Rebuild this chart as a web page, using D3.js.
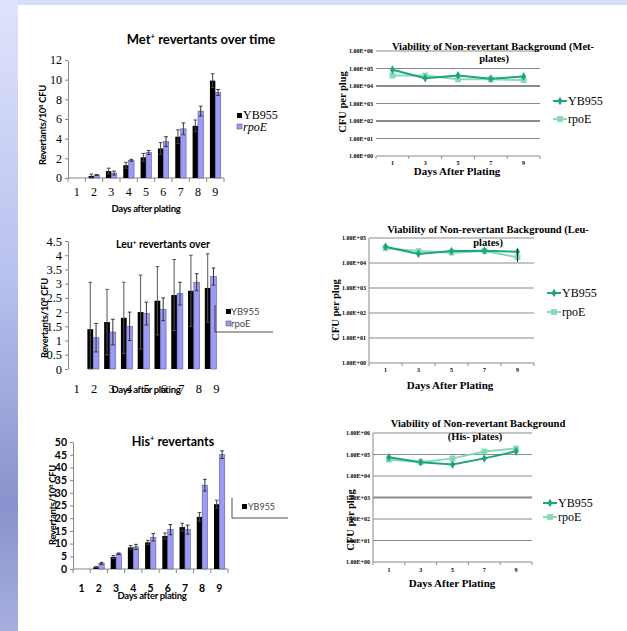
<!DOCTYPE html>
<html>
<head>
<meta charset="utf-8">
<script src="https://cdn.jsdelivr.net/npm/d3@7"></script>
<style>
  body { margin: 0; background: #fff; }
  svg { display: block; }
</style>
</head>
<body>
<div id="wrapper"></div>
<script>

// 1. Data

const days = ["1", "2", "3", "4", "5", "6", "7", "8", "9"]
const strains = ["YB955", "rpoE"]

const metYB955 = [0, 0.2, 0.7, 1.3, 2.1, 3.0, 4.2, 5.3, 9.9]
const metYB955Err = [0, 0.2, 0.3, 0.3, 0.4, 0.6, 0.7, 0.6, 0.7]
const metRpoE = [0, 0.3, 0.5, 1.8, 2.6, 3.7, 5.0, 6.8, 8.7]
const metRpoEErr = [0, 0.05, 0.2, 0.1, 0.2, 0.5, 0.6, 0.5, 0.3]
const metTicks = [0, 2, 4, 6, 8, 10, 12]

const leuYB955 = [0, 1.4, 1.65, 1.8, 2.0, 2.4, 2.6, 2.75, 2.85]
const leuYB955Err = [0, 1.65, 1.15, 1.25, 1.3, 1.2, 1.25, 1.25, 1.2]
const leuRpoE = [0, 1.1, 1.3, 1.5, 1.95, 2.1, 2.65, 3.05, 3.25]
const leuRpoEErr = [0, 0.5, 0.45, 0.5, 0.4, 0.4, 0.4, 0.3, 0.3]
const leuTicks = [0, 0.5, 1, 1.5, 2, 2.5, 3, 3.5, 4, 4.5]

const hisYB955 = [0, 0.8, 4.7, 8.5, 10.5, 13, 16.5, 20.5, 25.5]
const hisYB955Err = [0, 0.2, 0.6, 0.7, 0.8, 1.2, 1.5, 1.7, 1.6]
const hisRpoE = [0, 2.2, 6, 8.7, 12.5, 15.5, 15.5, 33, 45]
const hisRpoEErr = [0, 0.4, 0.3, 1.0, 1.5, 2.0, 1.8, 2.3, 1.5]
const hisTicks = [0, 5, 10, 15, 20, 25, 30, 35, 40, 45, 50]

const viabDays = ["1", "3", "5", "7", "9"]
const metViabYB955 = [85000, 28000, 40000, 26000, 35000]
const metViabRpoE = [40000, 40000, 24000, 24000, 22000]
const leuViabYB955 = [45000, 23000, 30000, 31000, 28000]
const leuViabRpoE = [39000, 30000, 26000, 30000, 17000]
const leuViabYB955Err = [0, 0, 0, 0, 9000]
const leuViabRpoEErr = [0, 0, 0, 0, 6000]
const hisViabYB955 = [74000, 44000, 34000, 66000, 141000]
const hisViabRpoE = [58000, 44000, 66000, 138000, 190000]
const logTicks6 = [1, 10, 100, 1e3, 1e4, 1e5, 1e6]
const logTicks5 = [1, 10, 100, 1e3, 1e4, 1e5]

// 2. Frame

const width = 627
const height = 631
const barColors = {YB955: "#000000", rpoE: "#9b9bf7"}
const lineColors = {YB955: "#1ea57e", rpoE: "#86dbb3"}
const serif = "'Liberation Serif', 'Times New Roman', serif"
const sans = "Lato, 'Open Sans', sans-serif"

const svg = d3.select("#wrapper")
    .append("svg")
    .attr("width", width)
    .attr("height", height)

const defs = svg.append("defs")
const grad = defs.append("linearGradient")
    .attr("id", "sideGrad")
    .attr("x1", 0).attr("y1", 0).attr("x2", 0).attr("y2", 1)
grad.append("stop").attr("offset", "0%").attr("stop-color", "#dfe4fb")
grad.append("stop").attr("offset", "45%").attr("stop-color", "#b7bfee")
grad.append("stop").attr("offset", "80%").attr("stop-color", "#8a92cd")
grad.append("stop").attr("offset", "100%").attr("stop-color", "#a7aede")

svg.append("rect")
    .attr("width", width).attr("height", 5)
    .attr("fill", "#d8defa")
svg.append("rect")
    .attr("width", 18).attr("height", height)
    .attr("fill", "url(#sideGrad)")

// 3. Bar chart panels (left column)

function drawBarPanel(cfg) {
    const g = svg.append("g")
    const x = d3.scaleBand()
        .domain(days)
        .range([cfg.x0, cfg.x1])
    // bars sit on a slightly different grid than the labels in the slide
    const xBars = d3.scaleBand()
        .domain(days)
        .range([cfg.x0, cfg.barsX1 || cfg.x1])
    const y = d3.scaleLinear()
        .domain([0, cfg.max])
        .range([cfg.yBot, cfg.yTop])
    const inner = d3.scaleBand()
        .domain(strains)
        .range([xBars.bandwidth() / 2 - cfg.barW, xBars.bandwidth() / 2 + cfg.barW])

    // y axis
    const yAxis = g.append("g")
        .attr("transform", `translate(${cfg.x0},0)`)
        .call(d3.axisLeft(y).tickValues(cfg.ticks).tickFormat(d => String(d))
            .tickSize(3).tickSizeOuter(0).tickPadding(3))
    yAxis.select(".domain").attr("stroke", "#888")
    yAxis.selectAll(".tick line").attr("stroke", "#888")
    yAxis.selectAll(".tick text")
        .style("font-family", cfg.tickFont)
        .style("font-weight", cfg.tickWeight)
        .style("font-size", cfg.tickSize + "px")
        .attr("fill", "#000")

    // x axis with Excel style ticks between categories
    if (cfg.xLine) {
        g.append("line")
            .attr("x1", cfg.x0).attr("x2", cfg.x1)
            .attr("y1", cfg.yBot).attr("y2", cfg.yBot)
            .attr("stroke", "#888")
        g.selectAll(".xtick")
            .data(days.concat(["end"]))
            .join("line")
            .attr("x1", d => d === "end" ? cfg.x1 : x(d))
            .attr("x2", d => d === "end" ? cfg.x1 : x(d))
            .attr("y1", cfg.yBot).attr("y2", cfg.yBot + 4)
            .attr("stroke", "#888")
    }
    g.selectAll(".xlab")
        .data(days)
        .join("text")
        .attr("x", d => x(d) + x.bandwidth() / 2)
        .attr("y", cfg.xLabelY)
        .attr("text-anchor", "middle")
        .style("font-family", cfg.tickFont)
        .style("font-weight", cfg.tickWeight)
        .style("font-size", cfg.tickSize + "px")
        .text(d => d)

    // bars
    const series = [
        {name: "YB955", values: cfg.values[0], errs: cfg.errs[0]},
        {name: "rpoE", values: cfg.values[1], errs: cfg.errs[1]},
    ]
    series.forEach(s => {
        const rows = days.map((d, i) => ({day: d, v: s.values[i], e: s.errs[i]}))
        g.append("g").selectAll("rect")
            .data(rows.filter(r => r.v > 0))
            .join("rect")
            .attr("x", r => xBars(r.day) + inner(s.name))
            .attr("y", r => y(r.v))
            .attr("width", inner.bandwidth())
            .attr("height", r => cfg.yBot - y(r.v))
            .attr("fill", barColors[s.name])
            .attr("stroke", s.name === "rpoE" ? "#5a5a9a" : "none")
            .attr("stroke-width", 0.6)

        const errs = g.append("g")
            .attr("stroke", s.name === "YB955" ? cfg.blackErr : "#333")
            .attr("stroke-width", 1)
        const cx = r => xBars(r.day) + inner(s.name) + inner.bandwidth() / 2
        const withErr = rows.filter(r => r.e > 0)
        errs.selectAll(".v")
            .data(withErr)
            .join("line")
            .attr("x1", cx).attr("x2", cx)
            .attr("y1", r => y(Math.max(0, r.v - r.e)))
            .attr("y2", r => y(r.v + r.e))
        errs.selectAll(".capTop")
            .data(withErr)
            .join("line")
            .attr("x1", r => cx(r) - 1.8).attr("x2", r => cx(r) + 1.8)
            .attr("y1", r => y(r.v + r.e)).attr("y2", r => y(r.v + r.e))
        errs.selectAll(".capBot")
            .data(withErr)
            .join("line")
            .attr("x1", r => cx(r) - 1.8).attr("x2", r => cx(r) + 1.8)
            .attr("y1", r => y(Math.max(0, r.v - r.e))).attr("y2", r => y(Math.max(0, r.v - r.e)))
    })

    // titles
    const title = g.append("text")
        .attr("x", cfg.titleX).attr("y", cfg.titleY)
        .attr("text-anchor", "middle")
        .attr("font-family", sans)
        .attr("font-weight", "bold")
        .attr("font-size", cfg.titleSize)
    title.append("tspan").text(cfg.title[0])
    title.append("tspan").attr("dy", -cfg.titleSize * 0.4).attr("font-size", cfg.titleSize * 0.6).text("+")
    title.append("tspan").attr("dy", cfg.titleSize * 0.4).text(cfg.title[1])

    g.append("text")
        .attr("x", cfg.xTitleX).attr("y", cfg.xTitleY)
        .attr("text-anchor", "middle")
        .attr("font-family", sans)
        .attr("font-weight", "bold")
        .attr("font-size", 9.5)
        .attr("letter-spacing", -0.3)
        .text("Days after plating")

    const yt = g.append("text")
        .attr("transform", `translate(${cfg.yTitleX},${cfg.yTitleY}) rotate(-90)`)
        .attr("text-anchor", "middle")
        .attr("font-family", sans)
        .attr("font-weight", "bold")
        .attr("font-size", 9.5)
        .attr("letter-spacing", -0.3)
    yt.append("tspan").text("Revertants/10")
    yt.append("tspan").attr("dy", -3).attr("font-size", 6).text("8")
    yt.append("tspan").attr("dy", 3).text(" CFU")

    return {g, x, y}
}

// Met+
const met = drawBarPanel({
    x0: 68, x1: 224, yTop: 60, yBot: 178, max: 12, ticks: metTicks,
    tickFont: serif, tickWeight: "normal", tickSize: 12, xLine: true, xLabelY: 196,
    values: [metYB955, metRpoE], errs: [metYB955Err, metRpoEErr], barW: 5.4, blackErr: "#444",
    title: ["Met", "  revertants over time"], titleX: 201, titleY: 44, titleSize: 13,
    xTitleX: 146, xTitleY: 212, yTitleX: 46, yTitleY: 125,
})
met.g.append("rect").attr("x", 237).attr("y", 113).attr("width", 5).attr("height", 5).attr("fill", barColors.YB955)
met.g.append("text").attr("x", 243).attr("y", 119).style("font-family", serif).attr("font-size", 12).text("YB955")
met.g.append("rect").attr("x", 237).attr("y", 124).attr("width", 5).attr("height", 5)
    .attr("fill", barColors.rpoE).attr("stroke", "#5a5a9a").attr("stroke-width", 0.6)
met.g.append("text").attr("x", 243).attr("y", 131).style("font-family", serif).attr("font-style", "italic")
    .attr("font-size", 12).text("rpoE")

// Leu+
const leu = drawBarPanel({
    x0: 68, x1: 225, barsX1: 219, yTop: 241, yBot: 369, max: 4.5, ticks: leuTicks,
    tickFont: serif, tickWeight: "normal", tickSize: 12.5, xLine: false, xLabelY: 393,
    values: [leuYB955, leuRpoE], errs: [leuYB955Err, leuRpoEErr], barW: 5.8, blackErr: "#555",
    title: ["Leu", "  revertants over"], titleX: 163, titleY: 248, titleSize: 10.5,
    xTitleX: 146, xTitleY: 393, yTitleX: 48, yTitleY: 318,
})
leu.g.append("path").attr("d", "M215,305V332H273").attr("fill", "none").attr("stroke", "#222").attr("stroke-width", 0.8)
leu.g.append("rect").attr("x", 226).attr("y", 309).attr("width", 5).attr("height", 5).attr("fill", barColors.YB955)
leu.g.append("text").attr("x", 231).attr("y", 315).attr("font-family", sans).attr("font-size", 9.5).attr("fill", "#444").text("YB955")
leu.g.append("rect").attr("x", 226).attr("y", 321).attr("width", 5).attr("height", 5)
    .attr("fill", barColors.rpoE).attr("stroke", "#5a5a9a").attr("stroke-width", 0.6)
leu.g.append("text").attr("x", 231).attr("y", 327).attr("font-family", sans).attr("font-size", 9.5).attr("fill", "#444").text("rpoE")

// His+
const his = drawBarPanel({
    x0: 73, x1: 228, yTop: 442, yBot: 569, max: 50, ticks: hisTicks,
    tickFont: sans, tickWeight: "bold", tickSize: 10.5, xLine: true, xLabelY: 592,
    values: [hisYB955, hisRpoE], errs: [hisYB955Err, hisRpoEErr], barW: 5.4, blackErr: "#444",
    title: ["His", "  revertants"], titleX: 173, titleY: 446, titleSize: 12.5,
    xTitleX: 152, xTitleY: 599, yTitleX: 56, yTitleY: 505,
})
his.g.append("path").attr("d", "M232,498V518H288").attr("fill", "none").attr("stroke", "#222").attr("stroke-width", 0.8)
his.g.append("rect").attr("x", 242).attr("y", 504).attr("width", 5).attr("height", 5).attr("fill", barColors.YB955)
his.g.append("text").attr("x", 248).attr("y", 510).attr("font-family", sans).attr("font-size", 9).attr("fill", "#444").text("YB955")

// 4. Viability line panels (right column)

function drawLinePanel(cfg) {
    const g = svg.append("g")
    const x = d3.scaleBand()
        .domain(viabDays)
        .range([cfg.x0, cfg.x1])
    const y = d3.scaleLog()
        .domain([1, cfg.top])
        .range([cfg.yBot, cfg.yTop])
    const fmt = d => "1.00E+" + String(Math.round(Math.log10(d))).padStart(2, "0")

    g.selectAll(".grid")
        .data(cfg.ticks)
        .join("line")
        .attr("x1", cfg.x0).attr("x2", cfg.x1)
        .attr("y1", d => y(d)).attr("y2", d => y(d))
        .attr("stroke", "#8a8a8a")
        .attr("stroke-width", d => cfg.thick.includes(d) ? 2 : 1.2)
    g.selectAll(".ylab")
        .data(cfg.ticks)
        .join("text")
        .attr("x", cfg.x0 - 3)
        .attr("y", d => y(d) + 2)
        .attr("text-anchor", "end")
        .style("font-family", serif)
        .attr("font-weight", "bold")
        .attr("font-size", 6)
        .text(fmt)
    if (cfg.yLine) {
        g.append("line")
            .attr("x1", cfg.x0).attr("x2", cfg.x0)
            .attr("y1", cfg.yTop).attr("y2", cfg.yBot)
            .attr("stroke", "#8a8a8a")
    }
    g.selectAll(".xtick")
        .data(viabDays.concat(["end"]))
        .join("line")
        .attr("x1", d => d === "end" ? cfg.x1 : x(d))
        .attr("x2", d => d === "end" ? cfg.x1 : x(d))
        .attr("y1", cfg.yBot).attr("y2", cfg.yBot + 3)
        .attr("stroke", "#8a8a8a")
    g.selectAll(".xlab")
        .data(viabDays)
        .join("text")
        .attr("x", d => x(d) + x.bandwidth() / 2)
        .attr("y", cfg.xLabelY)
        .attr("text-anchor", "middle")
        .style("font-family", serif)
        .attr("font-weight", "bold")
        .attr("font-size", 6)
        .text(d => d)

    const series = [
        {name: "YB955", values: cfg.values[0], errs: cfg.errs ? cfg.errs[0] : null, symbol: d3.symbolDiamond, size: 22},
        {name: "rpoE", values: cfg.values[1], errs: cfg.errs ? cfg.errs[1] : null, symbol: d3.symbolSquare, size: 34},
    ]
    const cx = d => x(d) + x.bandwidth() / 2
    series.slice().reverse().forEach(s => {
        const rows = viabDays.map((d, i) => ({day: d, v: s.values[i], e: s.errs ? s.errs[i] : 0}))
        g.append("path")
            .datum(rows)
            .attr("fill", "none")
            .attr("stroke", lineColors[s.name])
            .attr("stroke-width", 2)
            .attr("d", d3.line().x(r => cx(r.day)).y(r => y(r.v)))
        g.append("g").selectAll("path")
            .data(rows)
            .join("path")
            .attr("transform", r => `translate(${cx(r.day)},${y(r.v)})`)
            .attr("d", d3.symbol(s.symbol, s.size))
            .attr("fill", lineColors[s.name])
        g.append("g").selectAll("line")
            .data(rows.filter(r => r.e > 0))
            .join("line")
            .attr("x1", r => cx(r.day)).attr("x2", r => cx(r.day))
            .attr("y1", r => y(r.v - r.e)).attr("y2", r => y(r.v + r.e))
            .attr("stroke", "#222")
    })

    // titles
    g.selectAll(".title")
        .data(cfg.title)
        .join("text")
        .attr("x", (d, i) => cfg.titleX[i])
        .attr("y", (d, i) => cfg.titleY + i * cfg.titleGap)
        .attr("text-anchor", "middle")
        .style("font-family", serif)
        .attr("font-weight", "bold")
        .attr("font-size", 10.5)
        .text(d => d)

    g.append("text")
        .attr("x", cfg.xTitleX).attr("y", cfg.xTitleY)
        .attr("text-anchor", "middle")
        .style("font-family", serif)
        .attr("font-weight", "bold")
        .attr("font-size", 11)
        .text("Days After Plating")

    g.append("text")
        .attr("transform", `translate(${cfg.yTitleX},${cfg.yTitleY}) rotate(-90)`)
        .attr("text-anchor", "middle")
        .style("font-family", serif)
        .attr("font-weight", "bold")
        .attr("font-size", 10.5)
        .text("CFU per plug")

    // legend
    series.forEach((s, i) => {
        const ly = cfg.legendY[i]
        g.append("line")
            .attr("x1", cfg.legendX).attr("x2", cfg.legendX + 14)
            .attr("y1", ly).attr("y2", ly)
            .attr("stroke", lineColors[s.name]).attr("stroke-width", 2)
        g.append("path")
            .attr("transform", `translate(${cfg.legendX + 7},${ly})`)
            .attr("d", d3.symbol(s.symbol, s.size))
            .attr("fill", lineColors[s.name])
        g.append("text")
            .attr("x", cfg.legendX + 15).attr("y", ly + 4)
            .style("font-family", serif)
            .attr("font-size", 12)
            .text(s.name)
    })
}

drawLinePanel({
    x0: 376, x1: 540, yTop: 51, yBot: 156, top: 1e6, ticks: logTicks6, thick: [1e4, 100], yLine: false,
    xLabelY: 165, values: [metViabYB955, metViabRpoE],
    title: ["Viability of Non-revertant Background (Met-", "plates)"], titleX: [493, 494], titleY: 50, titleGap: 12,
    xTitleX: 457, xTitleY: 175, yTitleX: 346, yTitleY: 102,
    legendX: 553, legendY: [101, 119],
})

drawLinePanel({
    x0: 369, x1: 534, yTop: 238, yBot: 363, top: 1e5, ticks: logTicks5, thick: [], yLine: true,
    xLabelY: 372, values: [leuViabYB955, leuViabRpoE], errs: [leuViabYB955Err, leuViabRpoEErr],
    title: ["Viability of Non-revertant Background (Leu-", "plates)"], titleX: [488, 488], titleY: 233, titleGap: 13,
    xTitleX: 450, xTitleY: 389, yTitleX: 339, yTitleY: 310,
    legendX: 547, legendY: [293, 312],
})

drawLinePanel({
    x0: 373, x1: 532, yTop: 433, yBot: 562, top: 1e6, ticks: logTicks6, thick: [1e3], yLine: true,
    xLabelY: 572, values: [hisViabYB955, hisViabRpoE],
    title: ["Viability of Non-revertant Background", "(His-  plates)"], titleX: [478, 475], titleY: 427, titleGap: 13,
    xTitleX: 452, xTitleY: 587, yTitleX: 354, yTitleY: 520,
    legendX: 543, legendY: [503, 517],
})

</script>
</body>
</html>
